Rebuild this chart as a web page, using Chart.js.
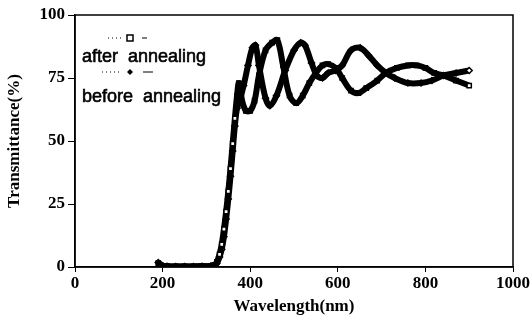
<!DOCTYPE html>
<html>
<head>
<meta charset="utf-8">
<script src="https://cdn.jsdelivr.net/npm/chart.js@4/dist/chart.umd.min.js"></script>
<style>
  html, body { margin: 0; padding: 0; background: #fff; }
  #wrap { width: 532px; height: 321px; }
</style>
</head>
<body>
<div id="wrap"><canvas id="transChart" width="532" height="321"></canvas></div>
<script>
// Tick labels
const xTicks = [0, 200, 400, 600, 800, 1000];
const yTicks = [0, 25, 50, 75, 100];

// After annealing (squares)
const afterWavelength = [190, 195, 200, 210, 230, 250, 270, 290, 310, 318, 324, 330, 335, 340, 345, 350, 355, 360, 365, 370, 374, 380, 390, 400, 410, 420, 435, 450, 462, 475, 490, 505, 520, 535, 550, 565, 578, 595, 610, 630, 647, 665, 690, 710, 735, 760, 780, 800, 820, 841, 870, 900];
const afterTrans = [1.5, 0.8, 0.4, 0.3, 0.2, 0.2, 0.2, 0.3, 0.4, 0.8, 2, 5, 9, 15, 22, 30, 39, 49, 59, 68, 73, 67, 62, 62, 66, 76, 86, 89, 90, 80, 68, 65, 68, 73, 77, 80, 80.5, 79, 75, 70, 69, 71, 74, 77, 79, 80, 80, 79, 77, 76, 74, 72];

// Before annealing (diamonds)
const beforeWavelength = [190, 195, 200, 210, 230, 250, 270, 290, 310, 318, 324, 330, 335, 340, 345, 350, 355, 360, 365, 370, 376, 385, 395, 405, 412, 420, 435, 445, 460, 480, 500, 515, 525, 540, 552, 565, 578, 595, 610, 630, 651, 670, 690, 710, 730, 760, 790, 815, 841, 870, 900];
const beforeTrans = [1.8, 1.0, 0.5, 0.3, 0.2, 0.2, 0.2, 0.3, 0.4, 0.7, 1.5, 4, 7, 12, 19, 27, 36, 46, 56, 63, 66, 72, 80, 87, 88, 80, 67, 64, 68, 78, 86, 89, 88, 81, 76, 75, 77, 78, 80, 86, 87, 84, 80, 77, 75, 73, 73, 74, 76, 77, 78];

function toPoints(xs, ys) {
  return xs.map((x, i) => ({ x: x, y: ys[i] }));
}

// hollow markers show only on the steep edge and at the last point
function markerFill(ctx) {
  const p = ctx.raw;
  const last = ctx.dataset.data.length - 1;
  if (!p) return "#000";
  if (ctx.dataIndex === last) return "#fff";
  if (p.x > 320 && p.y > 3 && p.y < 62) return "#fff";
  return "#000";
}

// frame round the plot area
const framePlugin = {
  id: "frame",
  afterDraw(chart) {
    const { ctx, chartArea } = chart;
    ctx.save();
    ctx.strokeStyle = "#000";
    ctx.lineWidth = 1.5;
    ctx.strokeRect(chartArea.left, chartArea.top, chartArea.right - chartArea.left, chartArea.bottom - chartArea.top);
    ctx.restore();
  },
};

// legend drawn inside the plot, symbol line above each label
const legendPlugin = {
  id: "innerLegend",
  afterDraw(chart) {
    const ctx = chart.ctx;
    ctx.save();
    ctx.fillStyle = "#000";
    ctx.strokeStyle = "#000";
    ctx.font = "18px 'Liberation Sans', Arial, sans-serif";
    ctx.textBaseline = "middle";
    ctx.lineWidth = 0.6;
    ctx.fillText("after  annealing", 82, 57);
    ctx.strokeText("after  annealing", 82, 57);
    ctx.fillText("before  annealing", 82, 97);
    ctx.strokeText("before  annealing", 82, 97);

    // dotted lead + marker + dash
    ctx.lineWidth = 1;
    ctx.setLineDash([1, 3]);
    ctx.beginPath(); ctx.moveTo(108, 38); ctx.lineTo(121, 38); ctx.stroke();
    ctx.beginPath(); ctx.moveTo(102, 72); ctx.lineTo(119, 72); ctx.stroke();
    ctx.setLineDash([]);
    ctx.beginPath(); ctx.moveTo(142, 38); ctx.lineTo(147, 38); ctx.stroke();
    ctx.beginPath(); ctx.moveTo(143, 72); ctx.lineTo(153, 72); ctx.stroke();
    ctx.lineWidth = 1.5;
    ctx.strokeRect(127, 35, 6, 6);
    ctx.beginPath();
    ctx.moveTo(130, 69); ctx.lineTo(133, 72); ctx.lineTo(130, 75); ctx.lineTo(127, 72); ctx.closePath();
    ctx.fill();
    ctx.restore();
  },
};

const serif = "'Liberation Serif', 'Times New Roman', serif";
const tickFont = { family: serif, size: 17, weight: "bold" };

new Chart(document.getElementById("transChart"), {
  type: "line",
  data: {
    datasets: [
      {
        label: "after annealing",
        data: toPoints(afterWavelength, afterTrans),
        borderColor: "#000",
        borderWidth: 6,
        tension: 0.35,
        pointStyle: "rect",
        pointRadius: 3,
        pointBorderWidth: 1.5,
        pointBorderColor: "#000",
        pointBackgroundColor: markerFill,
      },
      {
        label: "before annealing",
        data: toPoints(beforeWavelength, beforeTrans),
        borderColor: "#000",
        borderWidth: 6,
        tension: 0.35,
        pointStyle: "rectRot",
        pointRadius: 3,
        pointBorderWidth: 1.5,
        pointBorderColor: "#000",
        pointBackgroundColor: markerFill,
      },
    ],
  },
  options: {
    responsive: false,
    animation: false,
    layout: { padding: { top: 15, right: 19, left: 0, bottom: 0 } },
    plugins: {
      legend: { display: false },
      tooltip: { enabled: false },
    },
    scales: {
      x: {
        type: "linear",
        min: 0,
        max: 1000,
        afterBuildTicks(axis) { axis.ticks = xTicks.map(v => ({ value: v })); },
        afterFit(axis) { axis.height = 54; },
        grid: { drawOnChartArea: false, drawTicks: true, tickLength: 5, color: "#000" },
        border: { color: "#000", width: 1.5 },
        ticks: { color: "#000", font: tickFont, padding: 1, maxRotation: 0, callback: v => String(v) },
        title: {
          display: true,
          text: "Wavelength(nm)",
          color: "#000",
          font: { family: serif, size: 17, weight: "bold" },
          padding: { top: 0 },
        },
      },
      y: {
        min: 0,
        max: 100,
        afterBuildTicks(axis) { axis.ticks = yTicks.map(v => ({ value: v })); },
        afterFit(axis) { axis.width = 75; },
        grid: { drawOnChartArea: false, drawTicks: true, tickLength: 7, color: "#000" },
        border: { color: "#000", width: 1.5 },
        ticks: { color: "#000", font: tickFont, padding: 3, callback: v => String(v) },
        title: {
          display: true,
          text: "Transmittance(%)",
          color: "#000",
          font: { family: serif, size: 17, weight: "bold" },
          padding: { bottom: 2 },
        },
      },
    },
  },
  plugins: [framePlugin, legendPlugin],
});
</script>
</body>
</html>
